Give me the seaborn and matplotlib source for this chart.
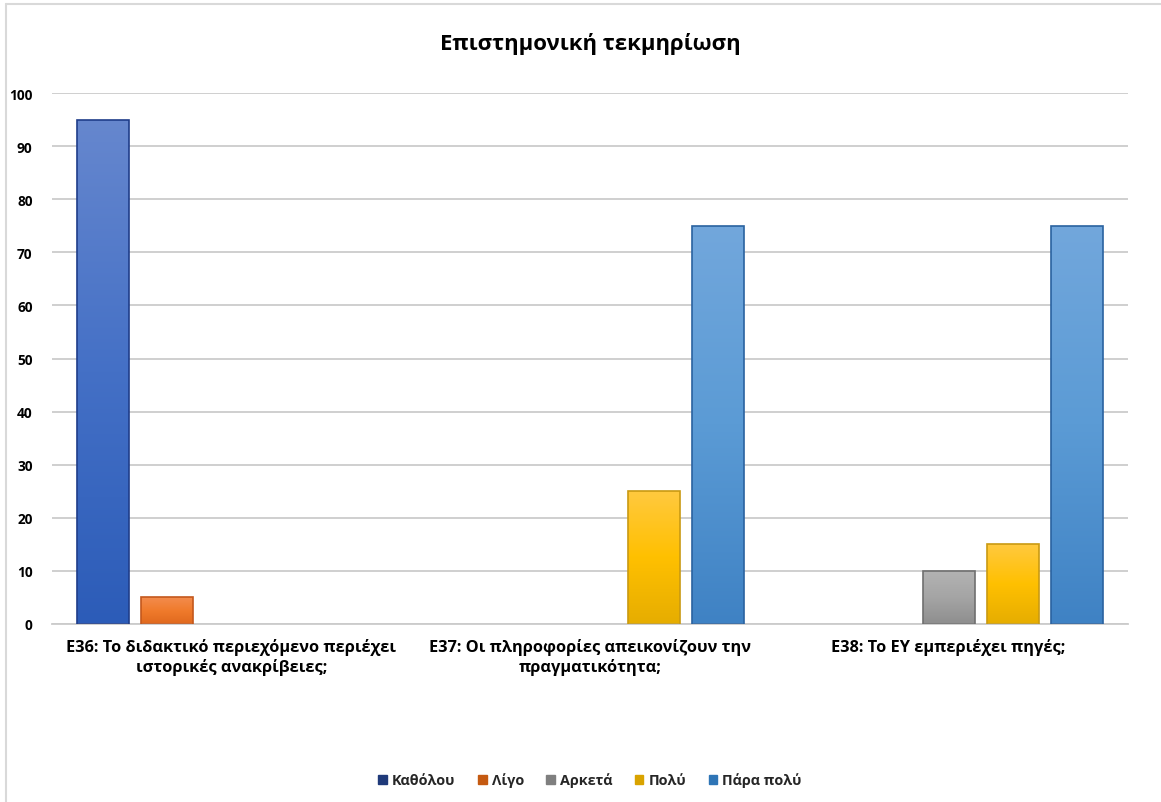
import numpy as np
import pandas as pd
import matplotlib
matplotlib.use("Agg")
import matplotlib.pyplot as plt
import seaborn as sns
from matplotlib.colors import LinearSegmentedColormap
from matplotlib.lines import Line2D
from matplotlib.patches import Patch

# ---- data -------------------------------------------------------------
questions = [
    "Ε36: Το διδακτικό περιεχόμενο περιέχει\nιστορικές ανακρίβειες;",
    "Ε37: Οι πληροφορίες απεικονίζουν την\nπραγματικότητα;",
    "Ε38: Το ΕΥ εμπεριέχει πηγές;",
]
levels = ["Καθόλου", "Λίγο", "Αρκετά", "Πολύ", "Πάρα πολύ"]
katholou = [95, 0, 0]
ligo = [5, 0, 0]
arketa = [0, 0, 10]
poly = [0, 25, 15]
para_poly = [0, 75, 75]
y_ticks = [0, 10, 20, 30, 40, 50, 60, 70, 80, 90, 100]
title = "Επιστημονική τεκμηρίωση"

# ---- styling ------------------------------------------------------------
base_colors = ["#4470C6", "#F07B2C", "#A5A5A5", "#FFC000", "#5B9BD5"]
# (top, middle, bottom) gradient stops for each answer level
gradients = [
    ("#6687CE", "#4470C6", "#2C5CB8"),
    ("#F38C4E", "#F07B2C", "#E0691E"),
    ("#B3B3B3", "#A5A5A5", "#8E8E8E"),
    ("#FFC93F", "#FFC000", "#E6AD00"),
    ("#72A7DC", "#5B9BD5", "#3F82C4"),
]
edge_colors = ["#1F3D8A", "#C4581C", "#6F6F6F", "#C99A12", "#2A62A0"]
legend_colors = ["#1F3A7A", "#C55A11", "#7F7F7F", "#D9A300", "#2E75B6"]
grid_color = "#CBCBCB"

sns.set_theme(style="white")
plt.rcParams["font.family"] = ["Open Sans", "DejaVu Sans"]
plt.rcParams["font.weight"] = "bold"

W, H = 1161, 803
fig = plt.figure(figsize=(W / 100, H / 100), dpi=100)
fig.patch.set_facecolor("white")
ax = fig.add_axes([52 / W, (H - 625) / H, (1128 - 52) / W, (625 - 94) / H])

df = pd.DataFrame({
    "question": np.repeat(questions, len(levels)),
    "level": levels * len(questions),
    "value": np.array([katholou, ligo, arketa, poly, para_poly]).T.ravel(),
})

sns.barplot(
    data=df, x="question", y="value", hue="level",
    order=questions, hue_order=levels, palette=base_colors,
    saturation=1, width=0.894, gap=0.19, legend=False, ax=ax,
)

ax.set_ylim(0, 100)
ax.set_xlim(-0.5, len(questions) - 0.5)
xlim, ylim = ax.get_xlim(), ax.get_ylim()

# vertical gradient fill for every bar
for container, grad, ec in zip(ax.containers, gradients, edge_colors):
    cmap = LinearSegmentedColormap.from_list("g", [grad[2], grad[1], grad[0]])
    for bar in container:
        h = bar.get_height()
        if h <= 0:
            bar.set_visible(False)
            continue
        x0 = bar.get_x()
        w = bar.get_width()
        img = ax.imshow(
            np.linspace(0, 1, 256).reshape(-1, 1), cmap=cmap, origin="lower",
            extent=(x0, x0 + w, 0, h), aspect="auto", zorder=2,
            interpolation="bicubic",
        )
        img.set_clip_path(bar)
        bar.set_facecolor("none")
        bar.set_edgecolor(ec)
        bar.set_linewidth(1.2)
        bar.set_zorder(3)

ax.set_xlim(xlim)
ax.set_ylim(ylim)

ax.set_yticks(y_ticks)
ax.yaxis.grid(True, color=grid_color, linewidth=1.3, zorder=0)
ax.set_axisbelow(True)
for side in ["left", "right", "top"]:
    ax.spines[side].set_visible(False)
ax.spines["bottom"].set_color(grid_color)
ax.spines["bottom"].set_linewidth(1.3)
ax.tick_params(axis="both", length=0)
ax.tick_params(axis="y", pad=14, labelsize=9.8, labelcolor="#000000")
ax.tick_params(axis="x", pad=10, labelsize=11.8, labelcolor="#000000")
for lbl in ax.get_xticklabels() + ax.get_yticklabels():
    lbl.set_fontweight("bold")
for lbl in ax.get_xticklabels():
    lbl.set_linespacing(1.25)
ax.set_xlabel("")
ax.set_ylabel("")

fig.text(590 / W, 1 - 44 / H, title, ha="center", va="center",
         fontsize=15.9, fontweight="bold", color="#000000")

handles = [Patch(facecolor=c, edgecolor=c) for c in legend_colors]
fig.legend(
    handles, levels, loc="center", bbox_to_anchor=(590 / W, 1 - 781 / H),
    ncol=5, frameon=False, handlelength=0.6, handleheight=0.6,
    handletextpad=0.35, columnspacing=1.55,
    prop={"weight": "bold", "size": 10.4},
)

# light chart-area border
fig.add_artist(Line2D([6 / W, 6 / W], [0, 1 - 5 / H], color="#D9D9D9",
                      linewidth=1.5, transform=fig.transFigure))
fig.add_artist(Line2D([6 / W, 1], [1 - 5 / H, 1 - 5 / H], color="#D9D9D9",
                      linewidth=1.5, transform=fig.transFigure))

fig.savefig("out.png", dpi=100, facecolor="white")
